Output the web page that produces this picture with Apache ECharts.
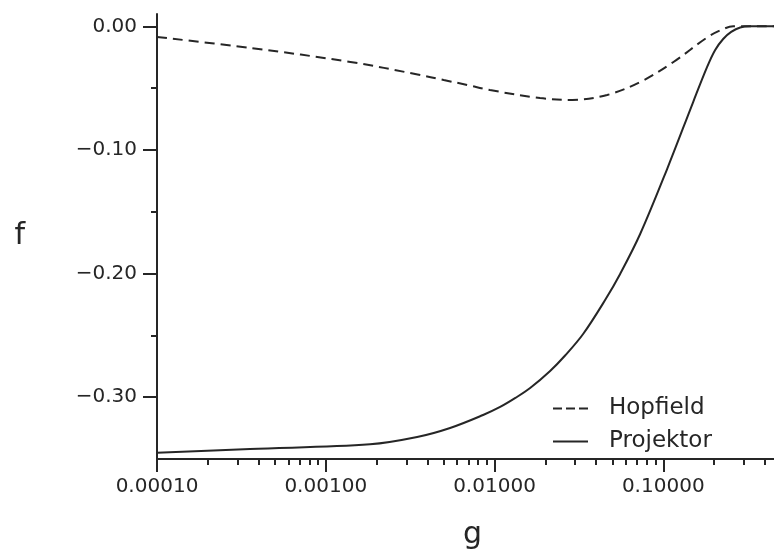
<!DOCTYPE html>
<html>
<head>
<meta charset="utf-8">
<script src="https://cdn.jsdelivr.net/npm/echarts@6/dist/echarts.min.js"></script>
<style>
html,body{margin:0;padding:0;background:#fff;}
#c{width:774px;height:551px;}
</style>
</head>
<body>
<div id="c"></div>
<script>
// ---- data ----
const gHop = [0.0001, 0.00036, 0.0014, 0.0035, 0.005, 0.0069, 0.0094, 0.0186, 0.029, 0.0465, 0.073, 0.115, 0.18, 0.22, 0.26, 0.5, 1];
const fHop = [-0.0086, -0.0175, -0.0288, -0.0389, -0.0434, -0.0474, -0.0515, -0.058, -0.0595, -0.0555, -0.045, -0.0288, -0.0094, -0.003, 0, 0, 0];

const gProj = [0.0001, 0.000356, 0.00183, 0.00348, 0.005455, 0.00856, 0.0108, 0.0133, 0.01626, 0.02136, 0.02621, 0.03351, 0.04524, 0.05553, 0.07297, 0.1054, 0.1504, 0.182, 0.2031, 0.2265, 0.2527, 0.2857, 0.3274, 0.5, 1];
const fProj = [-0.345, -0.3419, -0.3381, -0.3322, -0.3249, -0.3144, -0.3079, -0.3006, -0.2926, -0.2788, -0.2663, -0.2489, -0.2214, -0.2003, -0.168, -0.1154, -0.0612, -0.0328, -0.0191, -0.0102, -0.0045, -0.0009, 0, 0, 0];

const xMajorTicks = [0.0001, 0.001, 0.01, 0.1, 1];
const xMinorMult = [2, 3, 4, 5, 6, 7, 8, 9];
const yMajorTicks = [-0.3, -0.2, -0.1, 0];
const yMinorTicks = [-0.25, -0.15, -0.05];
const seriesNames = ['Hopfield', 'Projektor'];

const xMinorTicks = [];
xMajorTicks.slice(0, -1).forEach(d => xMinorMult.forEach(m => xMinorTicks.push(d * m)));

const ink = '#262626';
const font = 'DejaVu Sans';

const chart = echarts.init(document.getElementById('c'), null, {renderer: 'canvas'});
chart.setOption({
  backgroundColor: '#ffffff',
  animation: false,
  textStyle: {fontFamily: font, color: ink},
  grid: {left: 157, top: 14, right: -58, bottom: 92, containLabel: false, outerBoundsMode: 'none'},
  legend: {
    orient: 'vertical',
    left: 548,
    top: 392,
    itemWidth: 35,
    itemHeight: 2,
    itemGap: 10,
    textStyle: {fontFamily: font, fontSize: 23, color: ink, padding: [0, 0, 0, 16], lineHeight: 23},
    data: [
      {name: seriesNames[0], icon: 'path://M0,0h9v2h-9z M13,0h9v2h-9z M26,0h9v2h-9z'},
      {name: seriesNames[1], icon: 'path://M0,0h35v2h-35z'}
    ]
  },
  xAxis: [{
    type: 'log',
    logBase: 10,
    min: 0.0001,
    max: 1,
    position: 'bottom',
    axisLine: {show: true, onZero: false, lineStyle: {color: ink, width: 2}},
    axisTick: {show: true, customValues: xMajorTicks, length: 13, lineStyle: {color: ink, width: 2}},
    axisLabel: {show: true, customValues: xMajorTicks, margin: 18, fontSize: 20, fontFamily: font, color: ink,
      formatter: v => Number(v).toFixed(5)},
    splitLine: {show: false},
    minorTick: {show: false}
  }, {
    type: 'log',
    logBase: 10,
    min: 0.0001,
    max: 1,
    position: 'bottom',
    axisLine: {show: false, onZero: false},
    axisTick: {show: true, customValues: xMinorTicks, length: 6, lineStyle: {color: ink, width: 2}},
    axisLabel: {show: false},
    splitLine: {show: false}
  }],
  yAxis: [{
    type: 'value',
    min: -0.35,
    max: 0.01,
    position: 'left',
    name: 'f',
    nameLocation: 'middle',
    nameRotate: 0,
    nameGap: 132,
    nameTextStyle: {fontSize: 30, fontFamily: font, color: ink},
    axisLine: {show: true, onZero: false, lineStyle: {color: ink, width: 2}},
    axisTick: {show: true, customValues: yMajorTicks, length: 14, lineStyle: {color: ink, width: 2}},
    axisLabel: {show: true, customValues: yMajorTicks, margin: 20, fontSize: 20, fontFamily: font, color: ink,
      formatter: v => (Math.abs(v) < 1e-9 ? '0.00' : '\u2212' + Math.abs(v).toFixed(2))},
    splitLine: {show: false}
  }, {
    type: 'value',
    min: -0.35,
    max: 0.01,
    position: 'left',
    axisLine: {show: false, onZero: false},
    axisTick: {show: true, customValues: yMinorTicks, length: 6, lineStyle: {color: ink, width: 2}},
    axisLabel: {show: false},
    splitLine: {show: false}
  }],
  graphic: [{
    type: 'text',
    left: 463,
    top: 520,
    style: {text: 'g', font: '30px "DejaVu Sans"', fill: ink}
  }],
  series: [{
    name: seriesNames[0],
    type: 'line',
    xAxisIndex: 0,
    yAxisIndex: 0,
    symbol: 'none',
    showSymbol: false,
    smooth: 0.35,
    lineStyle: {color: ink, width: 2, type: [10, 6]},
    itemStyle: {color: ink},
    data: gHop.map((g, i) => [g, fHop[i]])
  }, {
    name: seriesNames[1],
    type: 'line',
    xAxisIndex: 0,
    yAxisIndex: 0,
    symbol: 'none',
    showSymbol: false,
    smooth: 0.35,
    lineStyle: {color: ink, width: 2, type: 'solid'},
    itemStyle: {color: ink},
    data: gProj.map((g, i) => [g, fProj[i]])
  }]
});
</script>
</body>
</html>
